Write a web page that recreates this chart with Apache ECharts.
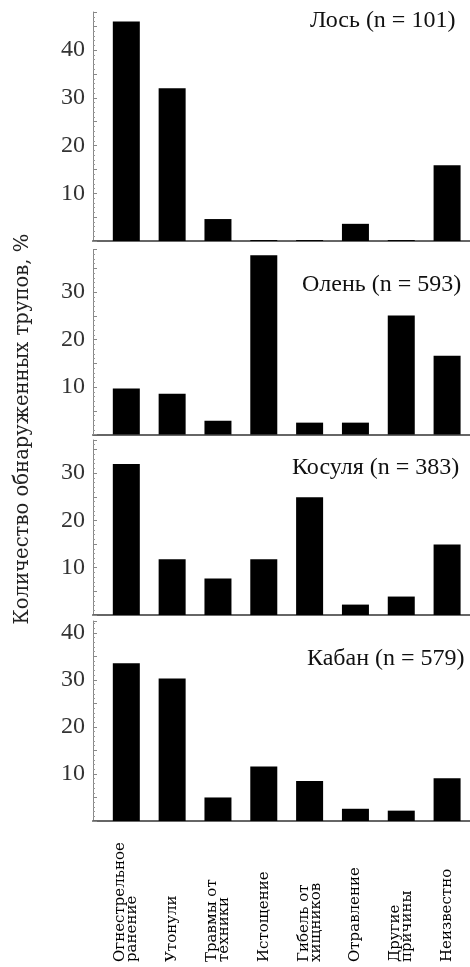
<!DOCTYPE html>
<html>
<head>
<meta charset="utf-8">
<script src="https://cdn.jsdelivr.net/npm/echarts@6/dist/echarts.min.js"></script>
<style>
html,body{margin:0;padding:0;background:#fff;}
#chart{width:470px;height:967px;}
</style>
</head>
<body>
<div id="chart"></div>
<script>
// ---- data ----
const categories = ['Огнестрельное\nранение', 'Утонули', 'Травмы от\nтехники', 'Истощение',
  'Гибель от\nхищников', 'Отравление', 'Другие\nпричины', 'Неизвестно'];
const elk  = [46.0, 32.0, 4.6, 0.2, 0.2, 3.6, 0.2, 15.9];
const deer = [9.7, 8.6, 2.9, 37.8, 2.5, 2.5, 25.1, 16.6];
const roe  = [31.9, 11.8, 7.7, 11.8, 24.9, 2.2, 3.9, 14.9];
const boar = [33.5, 30.3, 5.0, 11.6, 8.5, 2.6, 2.2, 9.1];
const panelTitles = ['Лось (n = 101)', 'Олень (n = 593)', 'Косуля (n = 383)', 'Кабан (n = 579)'];
const yTitle = 'Количество обнаруженных трупов, %';
const tickLabels = [10, 20, 30, 40];

// ---- layout ----
const seriesData = [elk, deer, roe, boar];
const panels = [
  {top: 12,    height: 229, max: 48,   tx: 310, ty: 21},
  {top: 249.5, height: 185, max: 39,   tx: 302, ty: 285},
  {top: 440,   height: 175, max: 37,   tx: 292, ty: 468},
  {top: 621,   height: 200, max: 42.5, tx: 307, ty: 659}
];
const axisLeft = 93;
const barLeft = 103.4;
const serif = '"Liberation Serif", "Times New Roman", serif';
const slab = '"DejaVu Serif", serif';

const grid = [], xAxis = [], yAxis = [], series = [], graphic = [];
panels.forEach((p, i) => {
  grid.push({left: axisLeft, right: 0, top: p.top, height: p.height});
  grid.push({left: barLeft, right: 0, top: p.top, height: p.height});
  const gf = 2 * i, gb = 2 * i + 1;
  xAxis.push({
    type: 'category', gridIndex: gf, data: [''],
    axisLine: {show: true, lineStyle: {color: '#666', width: 2}},
    axisTick: {show: false}, axisLabel: {show: false}, splitLine: {show: false}
  });
  xAxis.push({
    type: 'category', gridIndex: gb, data: categories,
    axisLine: {show: false}, axisTick: {show: false}, splitLine: {show: false},
    axisLabel: i === 3 ? {
      show: true, interval: 0, rotate: 90, align: 'left', verticalAlign: 'middle',
      padding: [0, 0, 6, 0],
      margin: 141, fontFamily: slab, fontSize: 15, lineHeight: 12, color: '#000'
    } : {show: false}
  });
  yAxis.push({
    type: 'value', gridIndex: gf, min: 0, max: p.max, interval: 5,
    axisLine: {show: true, lineStyle: {color: '#888', width: 1}},
    axisTick: {show: true, inside: true, length: 4, lineStyle: {color: '#888'}},
    minorTick: {show: true, splitNumber: 5, length: 2, lineStyle: {color: '#999'}},
    splitLine: {show: false},
    axisLabel: {
      show: true, margin: 8, fontFamily: serif, fontSize: 24, color: '#333',
      formatter: v => tickLabels.includes(v) ? String(v) : ''
    }
  });
  yAxis.push({type: 'value', gridIndex: gb, min: 0, max: p.max, show: false});
  series.push({
    type: 'bar', xAxisIndex: gb, yAxisIndex: gb, data: seriesData[i],
    barWidth: 27, itemStyle: {color: '#000'}, silent: true
  });
  graphic.push({
    type: 'text', x: p.tx, y: p.ty,
    style: {text: panelTitles[i], font: '24px ' + serif, fill: '#111', verticalAlign: 'middle', align: 'left'}
  });
});
graphic.push({
  type: 'text', x: 23, y: 429, rotation: Math.PI / 2,
  style: {text: yTitle, font: '19.6px ' + slab, fill: '#222', align: 'center', verticalAlign: 'middle'}
});

const chart = echarts.init(document.getElementById('chart'), null, {renderer: 'canvas'});
chart.setOption({
  animation: false,
  backgroundColor: '#fff',
  grid, xAxis, yAxis, series, graphic
});
</script>
</body>
</html>
